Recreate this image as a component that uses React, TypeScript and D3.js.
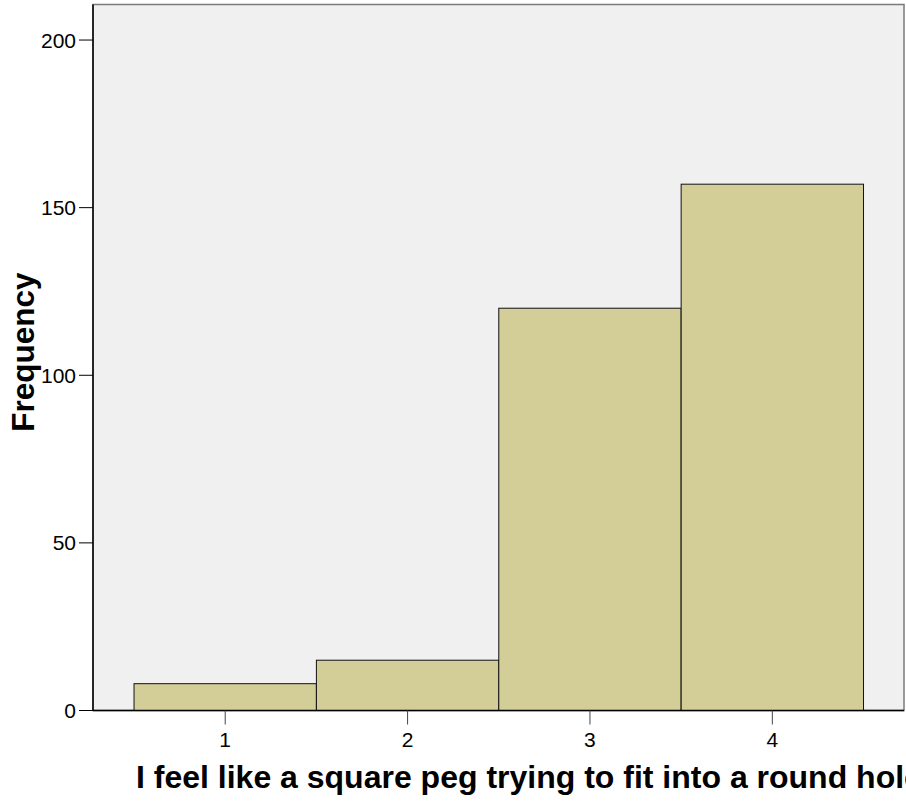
import React from "react";
import * as d3 from "d3";

const categories = [1, 2, 3, 4];
const frequencies = [8, 15, 120, 157];
const yTicks = [0, 50, 100, 150, 200];
const xLabel = "I feel like a square peg trying to fit into a round hole";
const yLabel = "Frequency";

const W = 906;
const H = 802;
const left = 93;
const right = 904;
const top = 4.5;
const bottom = 710.5;

export default function App() {
  const x = d3.scaleLinear().domain([0.275, 4.722]).range([left, right]);
  const y = d3.scaleLinear().domain([0, 210.6]).range([bottom, top]);
  const font = "Arial, 'Liberation Sans', sans-serif";
  return (
    <svg
      width={W}
      height={H}
      style={{ position: "absolute", left: 0, top: 0, display: "block", background: "#fff" }}
      fontFamily={font}
    >
      <rect x={left} y={top} width={right - left} height={bottom - top} fill="#f0f0f0" stroke="#7a7a7a" strokeWidth={1.5} />
      {categories.map((c, i) => (
        <rect
          key={c}
          x={x(c - 0.5)}
          y={y(frequencies[i])}
          width={x(c + 0.5) - x(c - 0.5)}
          height={y(0) - y(frequencies[i])}
          fill="#d3ce97"
          stroke="#111"
          strokeWidth={1}
        />
      ))}
      <line x1={left} x2={left} y1={top} y2={bottom} stroke="#000" strokeWidth={1.5} />
      <line x1={left} x2={right} y1={bottom} y2={bottom} stroke="#000" strokeWidth={1.5} />
      {yTicks.map((t) => (
        <g key={t}>
          <line x1={79} x2={left} y1={y(t)} y2={y(t)} stroke="#000" strokeWidth={1} />
          <text x={76} y={y(t)} dy="0.36em" textAnchor="end" fontSize={21} fill="#000">
            {t}
          </text>
        </g>
      ))}
      {categories.map((c) => (
        <g key={c}>
          <line x1={x(c)} x2={x(c)} y1={bottom} y2={bottom + 14} stroke="#444" strokeWidth={1} />
          <text x={x(c)} y={747} textAnchor="middle" fontSize={21} fill="#000">
            {c}
          </text>
        </g>
      ))}
      <text x={136} y={788} fontSize={32} fontWeight="bold" fill="#000">
        {xLabel}
      </text>
      <text
        transform={`translate(34, 352) rotate(-90)`}
        textAnchor="middle"
        fontSize={31.5}
        fontWeight="bold"
        fill="#000"
      >
        {yLabel}
      </text>
    </svg>
  );
}
